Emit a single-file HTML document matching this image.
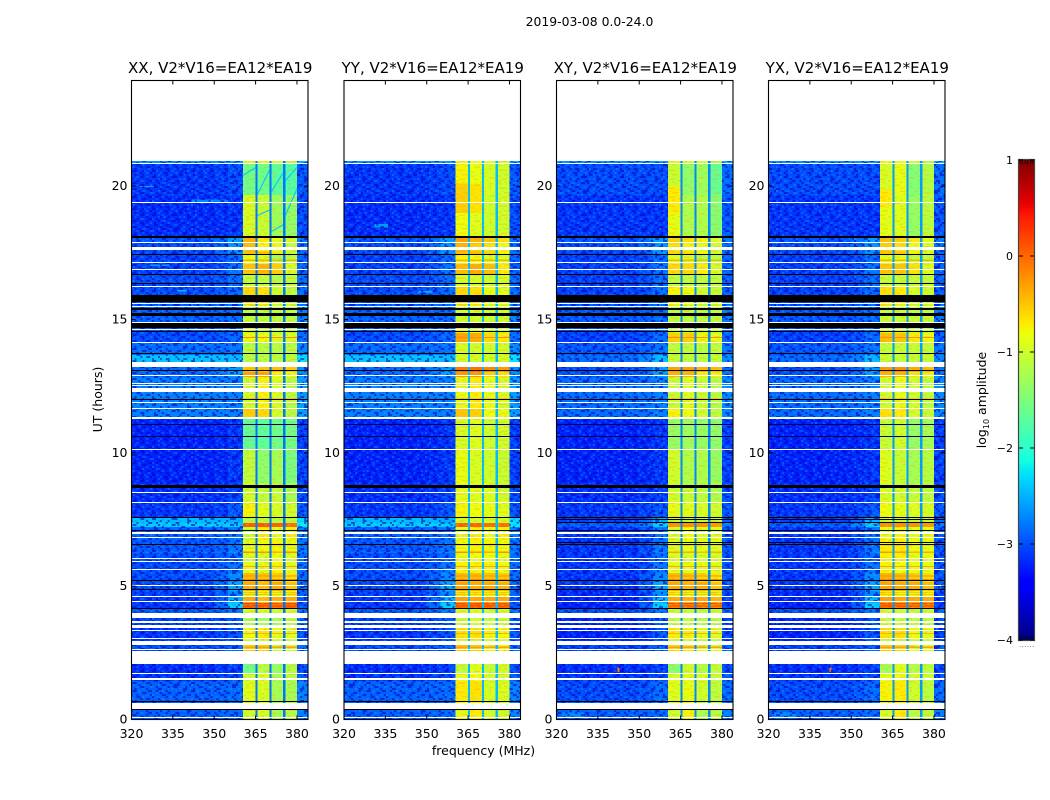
<!DOCTYPE html>
<html lang="en">
<head>
<meta charset="utf-8">
<title>2019-03-08 0.0-24.0</title>
<style>
html,body{margin:0;padding:0;background:#fff;width:1050px;height:800px;overflow:hidden}
svg{display:block}
text{font-family:"DejaVu Sans","Liberation Sans",sans-serif;fill:#000}
</style>
</head>
<body>
<svg id="chart" xmlns="http://www.w3.org/2000/svg" width="1050" height="800" viewBox="0 0 1050 800">
  <rect x="0" y="0" width="1050" height="800" fill="#fff"/>
  <defs id="defs"></defs>
  <text x="589.5" y="26" font-size="12.4" text-anchor="middle">2019-03-08 0.0-24.0</text>
  <text x="483.5" y="755" font-size="12.5" text-anchor="middle">frequency (MHz)</text>
  <text transform="translate(102,399.5) rotate(-90)" font-size="12.5" text-anchor="middle">UT (hours)</text>
  <text transform="translate(986,400) rotate(-90)" font-size="12.5" text-anchor="middle">log<tspan font-size="8" dy="3">10</tspan><tspan dy="-3"> amplitude</tspan></text>
  <g id="panels"></g>
  <g id="colorbar"></g>
</svg>
<script>
// ---------- data (UT hours, MHz, log10 amplitude) ----------
const panelTitles = ["XX, V2*V16=EA12*EA19","YY, V2*V16=EA12*EA19","XY, V2*V16=EA12*EA19","YX, V2*V16=EA12*EA19"];
const xTickValues = [320,335,350,365,380];
const yTickValues = [0,5,10,15,20];
const colorTickValues = [1,0,-1,-2,-3,-4];
const colorTickLabels = ["1","0","\u22121","\u22122","\u22123","\u22124"];

const segStart = [0,.66,1.44,1.74,2.53,2.79,2.98,3.43,3.99,4.18,4.37,4.59,4.82,5.16,5.49,5.91,6.24,6.30,6.73,7.22,7.37,7.56,8.12,8.87,10.1,11.27,11.68,12.84,13.03,13.22,13.67,14.12,14.49,14.87,15.54,16.22,16.67,17.08,17.42,17.55,17.85,18.1,19.67,20.83];
const dataEndUT = 20.95;

const backCopol = [-2.9,-2.9,-3.1,-3.15,-3.0,-3.05,-3.1,-3.05,-2.95,-3.1,-3.1,-3.05,-3.0,-3.0,-3.0,-3.0,-2.85,-2.95,-2.9,-2.35,-2.45,-3.1,-3.15,-3.2,-3.2,-2.75,-2.75,-2.85,-2.85,-2.4,-2.85,-3.0,-2.95,-2.9,-3.0,-3.0,-3.05,-3.05,-3.0,-3.0,-2.95,-3.15,-3.1,-2.65];
const backCross = [-2.9,-3.0,-3.1,-3.15,-3.05,-3.15,-3.2,-3.2,-3.0,-3.2,-3.2,-3.15,-3.1,-3.1,-3.1,-3.1,-3.1,-3.1,-3.1,-2.9,-3.05,-3.1,-3.15,-3.2,-3.2,-2.85,-2.85,-2.95,-3.0,-2.85,-2.95,-3.05,-3.0,-2.95,-3.05,-3.05,-3.05,-3.05,-3.0,-3.0,-2.95,-3.1,-3.0,-2.65];
const shoulderLevel = [-2.85,-2.85,-3.0,-3.05,-2.9,-2.95,-2.95,-2.95,-2.8,-2.35,-2.5,-2.7,-2.55,-2.7,-2.8,-2.85,-2.7,-2.8,-2.8,-2.35,-2.5,-2.95,-3.05,-3.1,-3.1,-2.75,-2.75,-2.6,-2.6,-2.45,-2.8,-2.85,-2.85,-2.85,-2.85,-2.85,-2.8,-2.85,-2.65,-2.65,-2.6,-3.1,-3.0,-2.6];
const notchLevel = [-2.8,-2.45,-2.7,-2.6];

const bandsXX = [[-1,-.95,-1.25,-1.15],[-.9,-.95,-1.25,-1.25],[-1,-1,-1.25,-1.15],[-1.6,-1.15,-1.35,-1.15],[-.55,-.55,-1.05,-.95],[-1.05,-1.05,-1.05,-1.05],[-.8,-.7,-.85,-.9],[-1.25,-1.25,-1.25,-1.15],[-1,-1,-1.05,-1],[.05,0,-.05,.05],[-.35,-.45,-.4,-.35],[-.85,-.85,-.85,-.85],[-.35,-.45,-.35,-.5],[-.45,-.5,-.55,-.7],[-.85,-.9,-.75,-.9],[-.95,-.95,-.85,-.95],[-.2,-.2,-.4,-.2],[-.9,-.8,-.75,-.85],[-1.05,-.7,-.85,-.75],[.1,.1,.05,0],[-1.15,-1.15,-1.15,-1.15],[-.75,-.9,-.95,-1],[-1,-1.1,-1.05,-1.25],[-1.1,-1.4,-1.25,-1.55],[-1.7,-1.7,-1.6,-1.6],[-.55,-.6,-.95,-1.15],[-1,-.75,-.95,-1.15],[-.3,-.3,-.75,-.85],[-.5,-.5,-.45,-.55],[-1.15,-1.15,-1.15,-1.15],[-1.15,-1.15,-1.15,-1.15],[-.85,-.85,-.95,-.95],[-.95,-1.15,-1.15,-1.15],[-1.1,-1.1,-1.1,-1.1],[-.6,-.65,-1,-1.1],[-1.1,-1.1,-1.15,-1.1],[-.5,-.4,-.55,-.95],[-.85,-.95,-1.25,-1.15],[-.5,-.45,-.65,-1.05],[-.45,-.75,-.85,-1.05],[-.4,-.7,-.85,-1],[-.95,-1.05,-1.3,-1.4],[-1.6,-1.6,-1.7,-1.8],[-.9,-.9,-.95,-1.1]];
const bandsYY = [[-.85,-.7,-.95,-1],[-.7,-.65,-.95,-.95],[-.85,-.8,-1,-1],[-1.1,-.9,-1.05,-1],[-.5,-.55,-.75,-.75],[-.95,-.95,-1,-1],[-.65,-.65,-.75,-.8],[-1.05,-1,-1.05,-1.05],[-.95,-.95,-1,-1],[.05,.05,0,0],[-.3,-.35,-.35,-.35],[-.75,-.75,-.75,-.8],[-.3,-.35,-.35,-.4],[-.45,-.45,-.5,-.55],[-.75,-.75,-.75,-.8],[-.85,-.8,-.8,-.85],[-.2,-.2,-.35,-.2],[-.8,-.75,-.75,-.8],[-.9,-.7,-.8,-.75],[.05,.05,0,0],[-1,-1,-1,-1],[-.75,-.8,-.85,-.9],[-.85,-.9,-.9,-1],[-.85,-.95,-1,-1.05],[-.95,-.9,-1,-1],[-.5,-.55,-.8,-.85],[-.85,-.7,-.85,-.95],[-.25,-.25,-.55,-.65],[-.05,-.05,-.15,-.25],[-1,-1,-1,-1],[-.95,-1,-1,-1],[-.3,-.35,-.6,-.7],[-.85,-.95,-1,-1],[-1,-1,-1,-1],[-.6,-.65,-.85,-.9],[-.95,-.95,-1,-.95],[-.45,-.35,-.45,-.7],[-.75,-.8,-.95,-.95],[-.45,-.45,-.55,-.8],[-.4,-.55,-.65,-.8],[-.3,-.4,-.5,-.65],[-.8,-.9,-1,-1],[-.75,-.85,-.95,-1],[-.75,-.8,-.9,-1]];
const bandsXY = [[-1,-.75,-1.2,-1.15],[-.9,-.85,-1,-1.1],[-.9,-.9,-1,-1.05],[-1.45,-1,-1.15,-1.1],[-.6,-.65,-.95,-.9],[-1.05,-1.05,-1.1,-1.1],[-.7,-.75,-.85,-.9],[-1.1,-1.1,-1.15,-1.15],[-1.05,-1.05,-1.1,-1.05],[-.1,-.1,-.15,-.15],[-.35,-.4,-.35,-.4],[-.8,-.85,-.85,-.85],[-.35,-.4,-.35,-.5],[-.45,-.5,-.6,-.7],[-.85,-.85,-.85,-.9],[-.95,-.95,-.95,-.95],[-.35,-.35,-.45,-.4],[-.9,-.85,-.85,-.9],[-1,-.8,-.9,-.9],[-.2,-.2,-.2,-.25],[-1.1,-1.1,-1.1,-1.1],[-.85,-.9,-.95,-1],[-1,-1.05,-1.1,-1.2],[-1,-1.2,-1.2,-1.35],[-1.35,-1.3,-1.35,-1.4],[-.75,-.8,-1,-1.1],[-1.05,-.9,-1.05,-1.15],[-.4,-.4,-.7,-.75],[-.3,-.3,-.4,-.45],[-1.1,-1.1,-1.1,-1.1],[-1.1,-1.1,-1.1,-1.1],[-.55,-.55,-.75,-.85],[-1,-1.1,-1.1,-1.1],[-1.1,-1.1,-1.1,-1.1],[-.75,-.8,-1,-1.05],[-1.1,-1.1,-1.1,-1.1],[-.6,-.6,-.7,-.95],[-.9,-.95,-1.15,-1.15],[-.6,-.6,-.75,-1],[-.65,-.75,-.85,-1],[-.55,-.65,-.75,-.9],[-.85,-1.2,-1.2,-1.45],[-1.05,-1.4,-1.3,-1.65],[-.9,-.95,-1,-1.2]];
const bandsYX = [[-.95,-.7,-1.1,-1.1],[-.75,-.7,-1,-1.1],[-.85,-.85,-1,-1.05],[-1.25,-.9,-1.15,-1.1],[-.55,-.6,-.9,-.85],[-1,-1,-1.1,-1.1],[-.65,-.65,-.8,-.85],[-1.05,-1.05,-1.1,-1.1],[-1,-1,-1.05,-1.05],[0,-.05,-.1,-.1],[-.3,-.35,-.35,-.35],[-.75,-.8,-.8,-.8],[-.3,-.35,-.35,-.45],[-.4,-.45,-.55,-.65],[-.75,-.8,-.8,-.85],[-.75,-.7,-.85,-.85],[-.25,-.3,-.4,-.35],[-.7,-.7,-.8,-.85],[-.85,-.75,-.85,-.85],[-.2,-.2,-.2,-.25],[-1.05,-1.05,-1.05,-1.05],[-.8,-.85,-.9,-.95],[-.95,-1,-1.05,-1.1],[-.9,-1.05,-1.25,-1.15],[-1.05,-1,-1.35,-1.25],[-.65,-.7,-.95,-1.05],[-1,-.85,-1,-1.1],[-.4,-.4,-.65,-.75],[-.25,-.2,-.35,-.45],[-1.05,-1.05,-1.05,-1.05],[-1.05,-1.05,-1.05,-1.05],[-.45,-.5,-.7,-.8],[-.95,-1.05,-1.05,-1.05],[-1.05,-1.05,-1.05,-1.05],[-.65,-.7,-.95,-1],[-1.05,-1.05,-1.05,-1.05],[-.5,-.5,-.65,-.9],[-.85,-.9,-1.1,-1.1],[-.5,-.5,-.7,-.95],[-.55,-.65,-.8,-.95],[-.45,-.55,-.7,-.85],[-.85,-.9,-1.35,-1.1],[-.95,-.85,-1.45,-1.15],[-.85,-.85,-1,-1.15]];

// narrow bright rows across the whole band, all polarizations
const stripeStart = [4.24,4.34,4.68,4.76,5.22,5.36,5.72,6.52,2.68,3.2,14.3,17.2,12.0];
const stripeEnd   = [4.28,4.37,4.71,4.79,5.26,5.40,5.76,6.56,2.73,3.25,14.35,17.25,12.05];
const stripeLevel = [.25,.2,-.2,-.3,-.15,-.2,-.35,-.4,-.3,-.4,-.2,-.4,-.5];

const whiteFlagStart = [.04,.375,1.45,1.71,2.04,2.60,2.77,2.98,3.28,3.42,3.61,3.79,4.41,4.57,5.01,5.57,5.91,6.00,6.81,6.92,6.99,8.08,8.49,10.11,11.25,11.64,11.83,12.24,12.47,12.54,12.86,13.21,14.08,14.57,14.83,15.45,15.54,16.22,16.85,17.08,17.55,17.83,19.33,20.79];
const whiteFlagEnd   = [.07,.61,1.53,1.74,2.54,2.64,2.91,3.02,3.32,3.54,3.68,3.99,4.44,4.61,5.04,5.61,5.94,6.04,6.84,6.96,7.03,8.12,8.53,10.14,11.31,11.68,11.87,12.40,12.51,12.58,12.90,13.39,14.12,14.61,14.87,15.49,15.58,16.25,16.89,17.12,17.68,17.87,19.37,20.83];
const blackFlagStart = [.32,.64,4.14,4.86,5.19,6.54,7.07,7.55,8.69,11.96,13.03,13.67,14.49,14.66,15.10,15.32,15.63,16.29,16.67,17.38,18.02];
const blackFlagEnd   = [.36,.67,4.18,4.89,5.23,6.58,7.10,7.59,8.79,12.00,13.07,13.72,14.53,14.85,15.22,15.41,15.88,16.33,16.70,17.42,18.11];
const dimRowStart = [10.59,11.02];
const dimRowEnd   = [10.63,11.06];
const crossBlackStart = [7.36,7.46,6.60];
const crossBlackEnd   = [7.39,7.49,6.63];

// localized features: panel index, MHz range, UT range, log10 amplitude
const featurePanel = [0,0,0,0,1,1,2,3,2,3,1,1,2,3];
const featureF0    = [323,342,335,325,331,347,342.1,342.1,322,322,360.5,365.7,360.5,360.5];
const featureF1    = [328,355,340,334,336,352,342.8,342.8,330,330,364.9,370,364.9,364.9];
const featureU0    = [19.98,19.38,16.04,17.0,18.45,16.0,1.78,1.78,0.1,0.1,19.0,19.0,19.0,19.2];
const featureU1    = [20.01,19.5,16.1,17.06,18.58,16.06,1.97,1.97,0.26,0.26,20.1,20.1,20.0,19.9];
const featureLevel = [-1.8,-2.7,-2.45,-2.6,-2.6,-2.55,-.1,-.1,-2.7,-2.7,-.55,-.65,-.7,-.7];

// thin RFI drift streaks seen in the XX bands: MHz and UT end points
const streakF0 = [370.8,375.8,370.8,365.7,375.8,360.5,365.7];
const streakU0 = [18.3,18.9,19.8,19.7,20.2,20.4,18.9];
const streakF1 = [375,380,375,370,380,365,370];
const streakU1 = [18.55,19.9,20.5,20.6,20.7,20.7,19.1];

// hand-typed textures standing in for per-channel noise (not read cell by cell)
const speckleRows = [
"aa.b...ac..a.bb..a...c.aa..b.a",
"a...ba....b.aa...cb.a...b.a..a",
"..c.aa.b.a...b.a.....aa...b.c.",
"b...a...aa.c....aab.a..c.a....",
".aa..b.....b.aa.....b.a...aab.",
"a..c..aab.a....b.ac....aa.....",
"..b.a.....aa.c....a.bb...a.c.a",
"a.....b.c...a..aa....a.c...b..",
".ab.aa...a.b....c.a...a..aa..b",
"...a..c.aa...ab...aab.....a.c.",
"c.a..a....b.a..c.a....b.aa....",
"..aab..b.a...a.....a.c...a.b.a",
"a.....a...c.aa.b..aa...b....aa",
"..b.c.aa.b.....a.....ba.c.a...",
"aa....a...a.cb..aab.a....a..b.",
".a.b....aa.....a.....a.bb...aa",
"...aa.c...b.aa...c.a...a..c...",
"b.a...a.b....a.b...aa.b..aa..b",
".a..c...aa.b...aa.....a....a.."
];
const bandTextureRows = [
"..o.....g...o.",
"o...g.o.....g.",
".g.......o..o.",
"....oo.....g..",
"..g....g.o....",
"o.....o.....oo",
".g.o.....g....",
"......oo...o.g",
"oo..g.....g...",
"...o...o....o.",
".g....g..oo...",
"o...o......g.o"
];

// ---------- layout & scales ----------
const NS = "http://www.w3.org/2000/svg";
const panelLeft = [131.5,344,556.5,768.5];
const panelWidth = 176.5;
const axTop = 80.5, axBottom = 719.5;
const fMin = 320, fMax = 384, utMin = 0, utMax = 23.96;
const bandEdges = [[360.5,364.9],[365.7,370],[370.8,375],[375.8,380]];
const notchEdges = [[364.9,365.7],[370,370.8],[375,375.8]];
const allBands = [bandsXX,bandsYY,bandsXY,bandsYX];
const yScale = u => axBottom - (u-utMin)/(utMax-utMin)*(axBottom-axTop);
const xScale = (p,f) => panelLeft[p] + (f-fMin)/(fMax-fMin)*panelWidth;
const colorTop = 160, colorBottom = 640, colorLeft = 1019, colorRight = 1034;
const colorY = v => colorBottom - (v+4)/5*(colorBottom-colorTop);

function ramp(t,pts){
  for(let i=1;i<pts.length;i++){
    if(t<=pts[i][0]){
      const a=pts[i-1],b=pts[i];
      return a[1]+(b[1]-a[1])*(t-a[0])/(b[0]-a[0]);
    }
  }
  return pts[pts.length-1][1];
}
function jet(v){
  const t=Math.max(0,Math.min(1,(v+4)/5));
  const r=ramp(t,[[0,0],[.35,0],[.66,1],[.89,1],[1,.5]]);
  const g=ramp(t,[[0,0],[.125,0],[.375,1],[.64,1],[.91,0],[1,0]]);
  const b=ramp(t,[[0,.5],[.11,1],[.34,1],[.65,0],[1,0]]);
  return "rgb("+Math.round(r*255)+","+Math.round(g*255)+","+Math.round(b*255)+")";
}
function mk(tag,attrs,parent){
  const el=document.createElementNS(NS,tag);
  for(const k in attrs) el.setAttribute(k,attrs[k]);
  parent.appendChild(el);
  return el;
}
function cell(parent,p,f0,f1,u0,u1,fill){
  const x0=xScale(p,f0),x1=xScale(p,f1),y0=yScale(u1),y1=yScale(u0);
  return mk("rect",{x:x0.toFixed(2),y:y0.toFixed(2),width:(x1-x0).toFixed(2),height:(y1-y0).toFixed(2),fill:fill},parent);
}
// flagged rows snap to whole pixels so one-row flags keep full contrast
function flagRow(parent,p,u0,u1,fill){
  const x0=xScale(p,fMin),x1=xScale(p,fMax);
  const y0=Math.floor(yScale(u1)),h=Math.max(1,Math.round(yScale(u0)-yScale(u1)));
  return mk("rect",{x:x0.toFixed(2),y:y0,width:(x1-x0).toFixed(2),height:h,fill:fill},parent);
}

// texture patterns
const defs=document.getElementById("defs");
const cw=1.95,ch=2.0;
const pat=mk("pattern",{id:"speckle",patternUnits:"userSpaceOnUse",x:0,y:0,width:speckleRows[0].length*cw,height:speckleRows.length*ch},defs);
const speckleFill={a:"#0000c0",b:"#0090ff",c:"#18b8ff"};
const speckleAlpha={a:.6,b:.4,c:.35};
speckleRows.forEach((row,j)=>{
  row.split("").forEach((ch2,i)=>{
    if(ch2==="."){return;}
    mk("rect",{x:i*cw,y:j*ch,width:cw,height:ch,fill:speckleFill[ch2],"fill-opacity":speckleAlpha[ch2]},pat);
  });
});
const pat2=mk("pattern",{id:"band-texture",patternUnits:"userSpaceOnUse",x:0,y:0,width:bandTextureRows[0].length*3,height:bandTextureRows.length*1.5},defs);
const bandTexFill={o:"#ff9a00",g:"#60ff90"};
bandTextureRows.forEach((row,j)=>{
  row.split("").forEach((ch2,i)=>{
    if(ch2==="."){return;}
    mk("rect",{x:i*3,y:j*1.5,width:3,height:1.5,fill:bandTexFill[ch2],"fill-opacity":.28},pat2);
  });
});

// panels
const root=document.getElementById("panels");
panelTitles.forEach((title,p)=>{
  const g=mk("g",{},root);
  
  
  const heat=mk("g",{"shape-rendering":"crispEdges"},g);
  
  
  const back=p<2?backCopol:backCross;
  const bands=allBands[p];

  segStart.forEach((u0,i)=>{
    const u1=i+1<segStart.length?segStart[i+1]:dataEndUT;
    const left=cell(heat,p,fMin,350,u0,u1,jet(back[i]));
    
    
    const mid=cell(heat,p,350,355,u0,u1,jet((back[i]*2+shoulderLevel[i])/3));
    
    
    const sh=cell(heat,p,355,360.5,u0,u1,jet(shoulderLevel[i]));
    
    
    const right=cell(heat,p,380,fMax,u0,u1,jet(back[i]+.15));
    
    
    bands[i].forEach((lvl,b)=>{
      const r=cell(heat,p,bandEdges[b][0],bandEdges[b][1],u0,u1,jet(lvl));
      
      
    });
  });

  // bright stripes across the band
  stripeStart.forEach((u,k)=>{
    const r=cell(heat,p,360.5,380,u,stripeEnd[k],jet(stripeLevel[k]));
    
    
  });

  // local features
  featurePanel.forEach((fp,k)=>{
    if(fp!==p){return;}
    const r=cell(heat,p,featureF0[k],featureF1[k],featureU0[k],featureU1[k],jet(featureLevel[k]));
    
    
  });

  // textures
  [[fMin,360.5],[380,fMax]].forEach(span=>{
    const r=cell(heat,p,span[0],span[1],0,dataEndUT,"url(#speckle)");
    
    
  });
  const bt=cell(heat,p,360.5,380,0,dataEndUT,"url(#band-texture)");
  
  

  // notches between sub-bands
  notchEdges.forEach(n=>{
    const r=cell(heat,p,n[0],n[1],0,dataEndUT,jet(notchLevel[p]));
    
    
  });

  // drift streaks (XX only)
  if(p===0){
    streakF0.forEach((f,k)=>{
      const l=mk("line",{x1:xScale(p,f),y1:yScale(streakU0[k]),x2:xScale(p,streakF1[k]),y2:yScale(streakU1[k]),stroke:jet(-2.4),"stroke-width":1.1},g);
      
      
    });
  }

  // flagged rows
  const flags=mk("g",{"shape-rendering":"crispEdges"},g);
  
  
  whiteFlagStart.forEach((u,k)=>{
    const r=flagRow(flags,p,u,whiteFlagEnd[k],"#fff");
    
    
  });
  blackFlagStart.forEach((u,k)=>{
    const r=flagRow(flags,p,u,blackFlagEnd[k],"#000");
    
    
  });
  dimRowStart.forEach((u,k)=>{
    const r=flagRow(flags,p,u,dimRowEnd[k],"#000060");
    
    
  });
  if(p>=2){
    crossBlackStart.forEach((u,k)=>{
      const r=flagRow(flags,p,u,crossBlackEnd[k],"#000");
      
      
    });
  }

  // frame
  const frame=mk("rect",{x:panelLeft[p],y:axTop,width:panelWidth,height:axBottom-axTop,fill:"none",stroke:"#000","stroke-width":1.1},g);
  
  

  // x ticks
  xTickValues.forEach(v=>{
    const x=xScale(p,v);
    const t1=mk("line",{x1:x,x2:x,y1:axBottom,y2:axBottom-4,stroke:"#000"},g);
    
    
    const t2=mk("line",{x1:x,x2:x,y1:axTop,y2:axTop+4,stroke:"#000"},g);
    
    
    const lb=mk("text",{x:x,y:738,"font-size":12.5,"text-anchor":"middle"},g);
    lb.textContent=String(v);
    
    
  });
  // y ticks
  yTickValues.forEach(v=>{
    const y=yScale(v);
    const t1=mk("line",{x1:panelLeft[p],x2:panelLeft[p]+4,y1:y,y2:y,stroke:"#000"},g);
    
    
    const t2=mk("line",{x1:panelLeft[p]+panelWidth,x2:panelLeft[p]+panelWidth-4,y1:y,y2:y,stroke:"#000"},g);
    
    
    const lb=mk("text",{x:panelLeft[p]-4,y:y+4,"font-size":12.5,"text-anchor":"end"},g);
    lb.textContent=String(v);
    
    
  });
  const tt=mk("text",{x:panelLeft[p]+panelWidth/2+.5,y:73,"font-size":15,"text-anchor":"middle"},g);
  tt.textContent=title;
  
  
});

// colorbar
const cb=document.getElementById("colorbar");
const cbSteps=256;
for(let i=0;i<cbSteps;i++){
  const v0=-4+5*i/cbSteps, v1=-4+5*(i+1)/cbSteps;
  const r=mk("rect",{x:colorLeft,y:colorY(v1).toFixed(2),width:colorRight-colorLeft,height:(colorY(v0)-colorY(v1)+.4).toFixed(2),fill:jet((v0+v1)/2),"shape-rendering":"crispEdges"},cb);
  
  
}
const cbFrame=mk("rect",{x:colorLeft-.5,y:colorTop-.5,width:colorRight-colorLeft+1,height:colorBottom-colorTop+1,fill:"none",stroke:"#444","stroke-width":1.2},cb);


colorTickValues.forEach((v,i)=>{
  const y=colorY(v);
  const a=mk("line",{x1:colorLeft,x2:colorLeft+4,y1:y,y2:y,stroke:"#000"},cb);
  
  
  const b=mk("line",{x1:colorRight,x2:colorRight-4,y1:y,y2:y,stroke:"#000"},cb);
  
  
  const lb=mk("text",{x:colorLeft-6,y:y+4,"font-size":11,"text-anchor":"end"},cb);
  lb.textContent=colorTickLabels[i];
  
  
});
const cbMinorTicks=[0,1,2,3,4,5];
cbMinorTicks.forEach(k=>{
  const x=colorLeft+1+k*2.6;
  const t1=mk("line",{x1:x,x2:x,y1:colorTop,y2:colorTop+4,stroke:"#000","stroke-width":.7},cb);
  
  
  const t2=mk("line",{x1:x,x2:x,y1:colorBottom,y2:colorBottom-4,stroke:"#000","stroke-width":.7},cb);
  
  
  const d=mk("rect",{x:x-.4,y:646,width:.9,height:.9,fill:"#777"},cb);
  
  
});
</script>
</body>
</html>
